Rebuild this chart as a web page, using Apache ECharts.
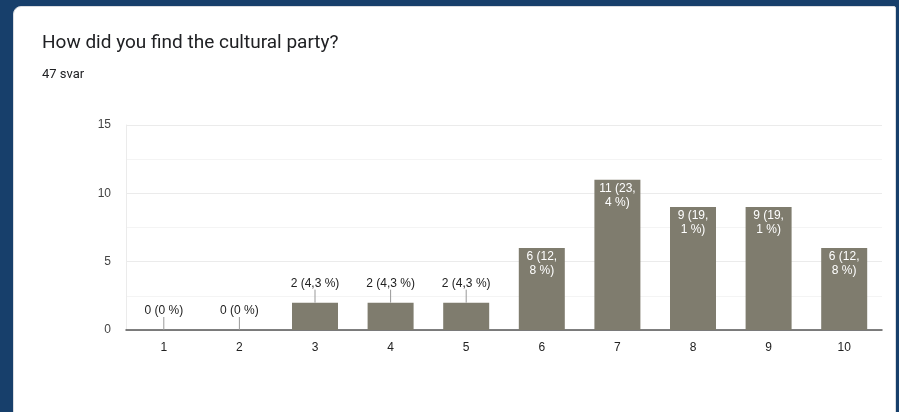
<!DOCTYPE html>
<html>
<head>
<meta charset="utf-8">
<script src="https://cdn.jsdelivr.net/npm/echarts@6/dist/echarts.min.js"></script>
<style>
  html, body { margin: 0; padding: 0; width: 899px; height: 412px; overflow: hidden; background: #173f6b; }
  #card { position: absolute; left: 13px; top: 6px; width: 883px; height: 420px; background: #ffffff;
          border: 1px solid #dadce0; border-top-left-radius: 8px; border-top-right-radius: 2px; box-sizing: border-box; }
  #chart { position: absolute; left: 0; top: 0; width: 899px; height: 412px; }
</style>
</head>
<body>
<div id="card"></div>
<div id="chart"></div>
<script>
const titleText = "How did you find the cultural party?";
const subText = "47 svar";
const categories = ["1", "2", "3", "4", "5", "6", "7", "8", "9", "10"];
const counts = [0, 0, 2, 2, 2, 6, 11, 9, 9, 6];
const percents = ["0 %", "0 %", "4,3 %", "4,3 %", "4,3 %", "12,8 %", "23,4 %", "19,1 %", "19,1 %", "12,8 %"];
const yTicks = [0, 5, 10, 15];

const insideThreshold = 5;

function labelFor(i) {
  const v = counts[i];
  const p = percents[i];
  if (v >= insideThreshold) {
    const parts = p.split(",");
    return v + " (" + parts[0] + ",\n" + parts[1] + ")";
  }
  return v + " (" + p + ")";
}

const barData = counts.map((v, i) => ({
  value: v,
  label: { show: v >= insideThreshold, formatter: labelFor(i) }
}));
const outsideData = counts.map((v, i) => [i, v]).filter(d => d[1] < insideThreshold);

const chart = echarts.init(document.getElementById('chart'), null, { renderer: 'canvas' });
chart.setOption({
  animation: false,
  backgroundColor: 'transparent',
  title: [
    { text: titleText, left: 42, top: 34, padding: 0,
      textStyle: { fontFamily: 'Roboto', fontSize: 19, fontWeight: 'normal', color: '#202124' } },
    { text: subText, left: 42, top: 68, padding: 0,
      textStyle: { fontFamily: 'Roboto', fontSize: 13, fontWeight: 'normal', color: '#202124' } }
  ],
  grid: { left: 126, right: 17, top: 125, bottom: 82, containLabel: false },
  xAxis: {
    type: 'category',
    data: categories,
    axisLine: { show: true, lineStyle: { color: '#555', width: 1.5 } },
    axisTick: { show: false },
    axisLabel: { color: '#222', fontFamily: 'Liberation Sans', fontSize: 12, margin: 12 },
    splitLine: { show: false }
  },
  yAxis: {
    type: 'value',
    min: yTicks[0],
    max: yTicks[yTicks.length - 1],
    interval: yTicks[1] - yTicks[0],
    axisLine: { show: true, lineStyle: { color: '#ebebeb' } },
    axisTick: { show: false },
    axisLabel: { color: '#444', fontFamily: 'Liberation Sans', fontSize: 12, margin: 15 },
    splitLine: { show: true, lineStyle: { color: '#ebebeb' } },
    minorTick: { show: false, splitNumber: 2 },
    minorSplitLine: { show: true, lineStyle: { color: '#f4f4f4' } }
  },
  series: [
    {
      type: 'bar',
      data: barData,
      barWidth: 46,
      itemStyle: { color: '#7f7c6e' },
      label: {
        position: 'insideTop',
        distance: 2,
        color: '#ffffff',
        fontFamily: 'Liberation Sans',
        fontSize: 12,
        lineHeight: 14
      }
    },
    {
      type: 'custom',
      data: outsideData,
      z: 5,
      renderItem: function (params, api) {
        const idx = api.value(0);
        const v = api.value(1);
        const p = api.coord([idx, v]);
        return {
          type: 'group',
          children: [
            { type: 'line', shape: { x1: p[0], y1: p[1], x2: p[0], y2: p[1] - 13 },
              style: { stroke: '#999', lineWidth: 1 } },
            { type: 'text',
              style: { text: labelFor(idx), x: p[0], y: p[1] - 13,
                       align: 'center', verticalAlign: 'bottom',
                       textAlign: 'center', textVerticalAlign: 'bottom',
                       fill: '#222', font: '12px "Liberation Sans"' } }
          ]
        };
      }
    }
  ]
});
</script>
</body>
</html>
